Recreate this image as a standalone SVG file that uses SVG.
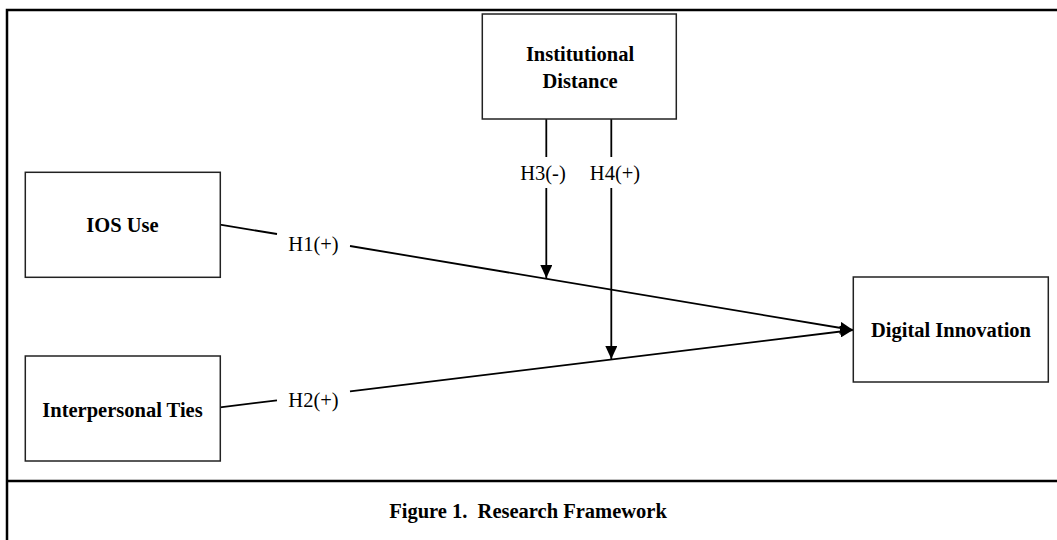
<svg xmlns="http://www.w3.org/2000/svg" width="1057" height="540" viewBox="0 0 1057 540">
<defs>
<marker id="arr" viewBox="0 0 13 12" refX="13" refY="6" markerWidth="13" markerHeight="12" markerUnits="userSpaceOnUse" orient="auto">
<path d="M0,0 L13,6 L0,12 Z" fill="#000"/>
</marker>
<style>
.box{fill:#fff;stroke:#222;stroke-width:1.5}
.lbl{font-family:"Liberation Serif","Times New Roman",serif;font-weight:bold;font-size:20.5px;text-anchor:middle;fill:#000}
.h{font-family:"Liberation Serif","Times New Roman",serif;font-size:20.5px;text-anchor:middle;fill:#000}
.c{stroke:#000;stroke-width:1.8;fill:none}
.frame{stroke:#000;stroke-width:2.5;fill:none}
.pre{white-space:pre}
</style>
</defs>
<rect width="1057" height="540" fill="#fff"/>
<g id="frame">
<path class="frame" d="M7,540 L7,10 L1057,10"/>
<path class="frame" d="M7,481 L1057,481"/>
</g>
<g id="connectors">
<path class="c" d="M220,224.7 L277,234"/>
<path class="c" d="M350,246 L853,330" marker-end="url(#arr)"/>
<path class="c" d="M220,407.3 L277,400.3"/>
<path class="c" d="M350,391.3 L853,330" marker-end="url(#arr)"/>
<path class="c" d="M546.3,119 L546.3,157"/>
<path class="c" d="M546.3,188 L546.3,278" marker-end="url(#arr)"/>
<path class="c" d="M611.3,119 L611.3,157"/>
<path class="c" d="M611.3,188 L611.3,359" marker-end="url(#arr)"/>
<text class="h" x="313.5" y="251">H1(+)</text>
<text class="h" x="313.5" y="407">H2(+)</text>
<text class="h" x="543" y="180">H3(-)</text>
<text class="h" x="615" y="180">H4(+)</text>
</g>
<g id="institutional-distance">
<rect class="box" x="482.3" y="14" width="194" height="105"/>
<text class="lbl" x="580" y="61">Institutional</text>
<text class="lbl" x="580" y="87.5">Distance</text>
</g>
<g id="ios-use">
<rect class="box" x="25.3" y="172.3" width="195" height="105"/>
<text class="lbl" x="122.5" y="232">IOS Use</text>
</g>
<g id="interpersonal-ties">
<rect class="box" x="25.3" y="356" width="195" height="105"/>
<text class="lbl" x="122.5" y="416.5">Interpersonal Ties</text>
</g>
<g id="digital-innovation">
<rect class="box" x="853.3" y="277" width="195" height="105"/>
<text class="lbl" x="951" y="337">Digital Innovation</text>
</g>
<g id="caption">
<text class="lbl pre" x="528" y="518" xml:space="preserve">Figure 1.  Research Framework</text>
</g>
</svg>
